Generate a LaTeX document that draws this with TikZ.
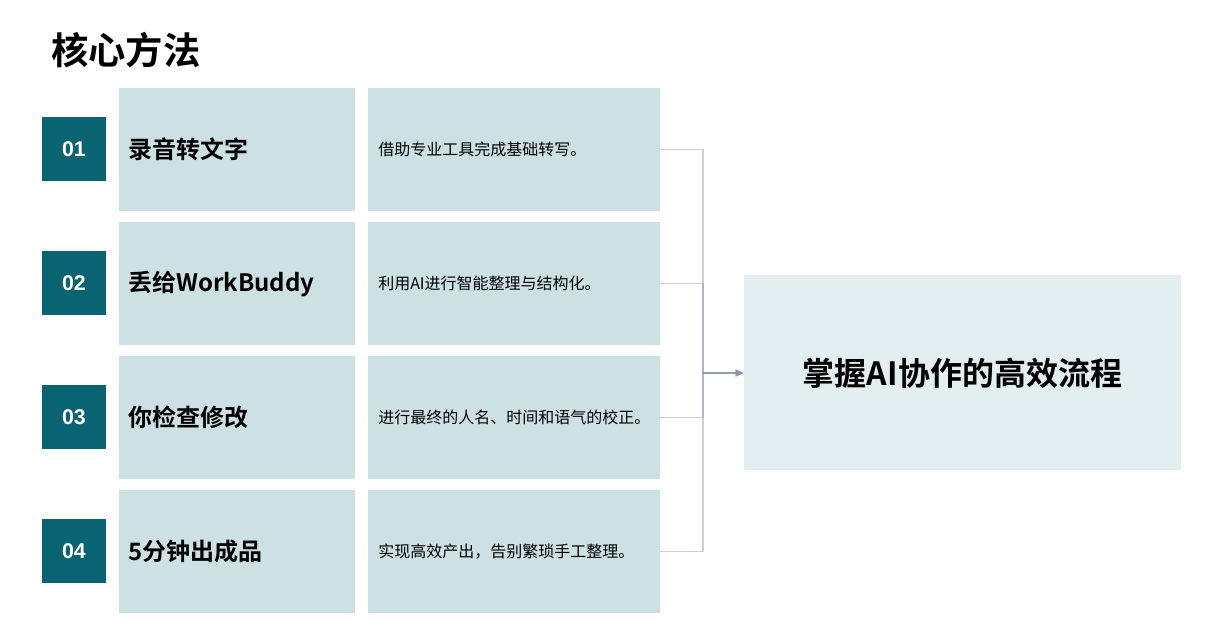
\documentclass[tikz,border=0pt]{standalone}
\usepackage{fontspec}
\setmainfont{Noto Sans CJK SC}[BoldFont={Noto Sans CJK SC Bold}]
\newfontfamily\numfont{Liberation Sans}
\usetikzlibrary{arrows.meta}
\definecolor{numteal}{HTML}{0A6370}
\definecolor{lightbox}{HTML}{CDE0E4}
\definecolor{paleteal}{HTML}{E3EEF1}
\definecolor{conngray}{HTML}{8A94A8}
\tikzset{
  numbox/.style={fill=numteal, minimum width=48pt, minimum height=48pt, inner sep=0pt, text=white, font=\numfont\bfseries\fontsize{16}{19}\selectfont},
  labbox/.style={fill=lightbox, minimum width=177pt, minimum height=92.25pt, inner sep=0pt},
  descbox/.style={fill=lightbox, minimum width=219pt, minimum height=92.25pt, inner sep=0pt},
  labtext/.style={anchor=west, inner sep=0pt, font=\bfseries\fontsize{18}{22}\selectfont},
  desctext/.style={anchor=west, inner sep=0pt, font=\fontsize{12}{15}\selectfont},
  conn/.style={draw=conngray, draw opacity=0.45, line width=1pt},
}
\begin{document}
\begin{tikzpicture}[x=0.75pt, y=-0.75pt]
\useasboundingbox (0,0) rectangle (1215,630);
\node[anchor=west, inner sep=0pt, font=\bfseries\fontsize{28}{32}\selectfont] (title) at (51,50) {核心方法};
\node[fill=paleteal, minimum width=327.75pt, minimum height=146.25pt, inner sep=0pt, font=\bfseries\fontsize{24}{28}\selectfont] (target) at (962.5,373) {掌握AI协作的高效流程};
\foreach \i/\n/\lab/\desc in {0/01/录音转文字/借助专业工具完成基础转写。,1/02/丢给WorkBuddy/利用AI进行智能整理与结构化。,2/03/你检查修改/进行最终的人名、时间和语气的校正。,3/04/5分钟出成品/实现高效产出，告别繁琐手工整理。}{
  \pgfmathsetmacro{\cy}{149.5+134*\i}
  \node[numbox] (n\n) at (74,\cy) {\n};
  \node[labbox] (b\n) at (237,\cy) {};
  \node[labtext] (l\n) at (128,\cy) {\lab};
  \node[descbox] (d\n) at (514,\cy) {};
  \node[desctext] (t\n) at (378,\cy) {\desc};
  \draw[conn, -{Triangle[length=6pt,width=5pt]}] (d\n.east) -- (703,\cy) |- (target.west);
}
\end{tikzpicture}
\end{document}
